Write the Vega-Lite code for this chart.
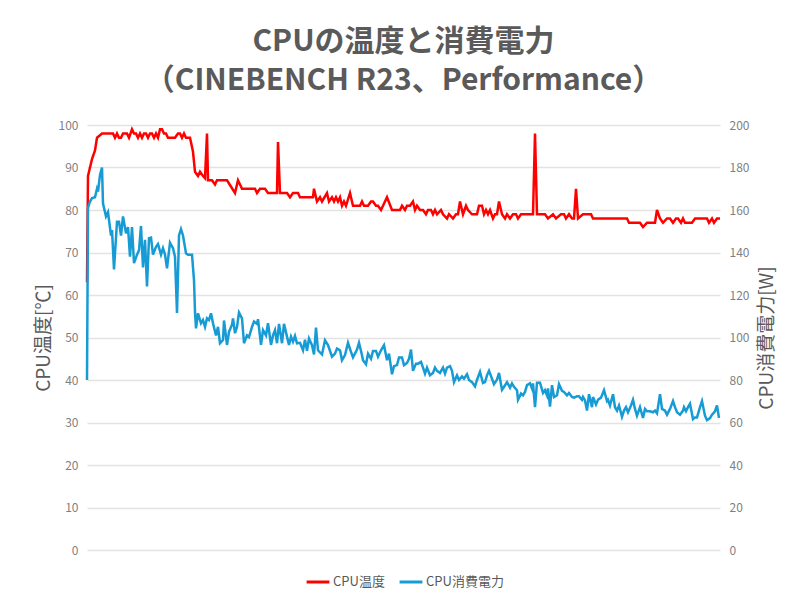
{
  "$schema": "https://vega.github.io/schema/vega-lite/v6.json",
  "autosize": "none",
  "width": 633,
  "height": 425,
  "padding": {"left": 87, "top": 125, "right": 80, "bottom": 50},
  "background": "white",
  "title": {
    "text": ["CPUの温度と消費電力", "（CINEBENCH R23、Performance）"],
    "fontSize": 30,
    "font": "Noto Sans CJK JP",
    "fontWeight": "bold",
    "color": "#5A5A5A",
    "lineHeight": 39,
    "anchor": "middle",
    "offset": 23
  },
  "datasets": {
    "temp": [
      {"t":0,"v":63},{"t":1,"v":88},{"t":5,"v":92},{"t":8,"v":94},{"t":10,"v":97},{"t":15,"v":98},{"t":26,"v":98},
      {"t":28,"v":97},{"t":30,"v":98},{"t":32,"v":97},{"t":34,"v":97},{"t":36,"v":98},{"t":40,"v":98},{"t":42,"v":97},
      {"t":45,"v":99},{"t":47,"v":98},{"t":49,"v":98},{"t":51,"v":97},{"t":53,"v":98},{"t":55,"v":97},{"t":57,"v":98},
      {"t":59,"v":98},{"t":61,"v":97},{"t":63,"v":98},{"t":65,"v":98},{"t":67,"v":97},{"t":69,"v":98},{"t":71,"v":97},
      {"t":73,"v":99},{"t":75,"v":99},{"t":77,"v":98},{"t":79,"v":98},{"t":81,"v":97},{"t":85,"v":97},{"t":88,"v":97},
      {"t":91,"v":98},{"t":93,"v":98},{"t":95,"v":97},{"t":97,"v":98},{"t":99,"v":97},{"t":103,"v":97},
      {"t":106,"v":93.7},{"t":108,"v":89},{"t":111,"v":88},{"t":113,"v":89},{"t":116,"v":88},{"t":118,"v":87.5},
      {"t":120,"v":98},{"t":121,"v":87},{"t":125,"v":87},{"t":128,"v":86},{"t":130,"v":87},{"t":140,"v":87},
      {"t":148,"v":84},{"t":151,"v":87},{"t":155,"v":85},{"t":168,"v":85},{"t":170,"v":84},{"t":173,"v":85},
      {"t":178,"v":85},{"t":181,"v":84},{"t":190,"v":84},{"t":191,"v":96},{"t":193,"v":84},{"t":200,"v":84},
      {"t":203,"v":83},{"t":206,"v":84},{"t":211,"v":84},{"t":213,"v":83},{"t":226,"v":83},{"t":227,"v":85},
      {"t":230,"v":82},{"t":233,"v":83},{"t":235,"v":82},{"t":240,"v":84},{"t":242,"v":82},{"t":245,"v":83},
      {"t":247,"v":82},{"t":249,"v":83},{"t":251,"v":82},{"t":253,"v":83},{"t":255,"v":81},{"t":257,"v":82},
      {"t":259,"v":81},{"t":263,"v":84},{"t":266,"v":81},{"t":273,"v":81},{"t":275,"v":82},{"t":277,"v":81},
      {"t":281,"v":81},{"t":284,"v":82},{"t":286,"v":82},{"t":289,"v":81},{"t":291,"v":81},{"t":294,"v":80},
      {"t":300,"v":83},{"t":305,"v":80},{"t":313,"v":80},{"t":315,"v":81},{"t":318,"v":80},{"t":320,"v":81},
      {"t":323,"v":81},{"t":326,"v":82},{"t":328,"v":80},{"t":330,"v":81},{"t":333,"v":80},{"t":336,"v":80},
      {"t":339,"v":79},{"t":341,"v":80},{"t":344,"v":80},{"t":346,"v":79},{"t":348,"v":80},{"t":350,"v":79},
      {"t":354,"v":80},{"t":356,"v":79},{"t":360,"v":78},{"t":362,"v":79},{"t":366,"v":78},{"t":369,"v":79},
      {"t":371,"v":79},{"t":373,"v":82},{"t":376,"v":79},{"t":379,"v":81},{"t":381,"v":80},{"t":385,"v":79},
      {"t":390,"v":79},{"t":392,"v":81},{"t":395,"v":81},{"t":397,"v":79},{"t":399,"v":80},{"t":401,"v":79},
      {"t":403,"v":80},{"t":406,"v":78},{"t":408,"v":79},{"t":410,"v":79},{"t":412,"v":82},{"t":415,"v":79},
      {"t":418,"v":78},{"t":420,"v":79},{"t":423,"v":78},{"t":426,"v":79},{"t":429,"v":79},{"t":431,"v":78},
      {"t":434,"v":79},{"t":446,"v":79},{"t":448,"v":98},{"t":450,"v":79},{"t":458,"v":79},{"t":461,"v":78},
      {"t":466,"v":79},{"t":469,"v":78},{"t":474,"v":79},{"t":477,"v":79},{"t":479,"v":78},{"t":482,"v":79},
      {"t":485,"v":78},{"t":487,"v":78},{"t":489,"v":85},{"t":491,"v":78},{"t":496,"v":79},{"t":504,"v":79},
      {"t":506,"v":78},{"t":540,"v":78},{"t":542,"v":77},{"t":553,"v":77},{"t":556,"v":76},{"t":560,"v":77},
      {"t":568,"v":77},{"t":570,"v":80},{"t":573,"v":78},{"t":576,"v":77},{"t":580,"v":78},{"t":583,"v":78},
      {"t":586,"v":77},{"t":589,"v":78},{"t":591,"v":78},{"t":594,"v":77},{"t":596,"v":78},{"t":598,"v":77},
      {"t":600,"v":77},{"t":605,"v":77},{"t":608,"v":78},{"t":620,"v":78},{"t":622,"v":77},{"t":625,"v":78},
      {"t":627,"v":77},{"t":630,"v":78},{"t":633,"v":78}
    ],
    "power": [
      {"t":0,"v":80},{"t":1,"v":161},{"t":3,"v":164},{"t":5,"v":165.6},{"t":8,"v":166},{"t":10,"v":170},{"t":11,"v":168.6},
      {"t":13,"v":176.5},{"t":15,"v":180},{"t":16,"v":163},{"t":19,"v":157},{"t":21,"v":159},{"t":24,"v":148},
      {"t":25,"v":150.6},{"t":27,"v":132},{"t":30,"v":154.5},{"t":32,"v":154.5},{"t":34,"v":148},{"t":36,"v":157},
      {"t":39,"v":149},{"t":41,"v":152},{"t":43,"v":138},{"t":45,"v":152},{"t":47,"v":135},{"t":50,"v":139},
      {"t":52,"v":141},{"t":54,"v":152.5},{"t":56,"v":133},{"t":58,"v":146},{"t":60,"v":124},{"t":62,"v":146.7},
      {"t":64,"v":147},{"t":66,"v":139},{"t":69,"v":142.7},{"t":71,"v":144},{"t":74,"v":139},{"t":76,"v":142},
      {"t":78,"v":139},{"t":80,"v":132.5},{"t":83,"v":144.6},{"t":86,"v":142},{"t":88,"v":138},{"t":90,"v":111.5},
      {"t":92,"v":148},{"t":94,"v":151},{"t":96,"v":148},{"t":99,"v":139.6},{"t":101,"v":139},{"t":105,"v":139},
      {"t":107,"v":127},{"t":108,"v":112},{"t":109,"v":104.3},{"t":111,"v":111.4},{"t":114,"v":106.7},{"t":116,"v":108.2},
      {"t":118,"v":105},{"t":120,"v":109},{"t":122,"v":108.2},{"t":124,"v":111.4},{"t":126,"v":106.7},{"t":129,"v":101},
      {"t":131,"v":105},{"t":133,"v":97.3},{"t":136,"v":98.8},{"t":137,"v":108},{"t":140,"v":96.5},{"t":142,"v":102.7},
      {"t":145,"v":106},{"t":146,"v":109},{"t":148,"v":102},{"t":150,"v":105},{"t":152,"v":111.7},{"t":155,"v":109},
      {"t":157,"v":97.3},{"t":160,"v":101},{"t":162,"v":100.2},{"t":165,"v":105},{"t":167,"v":107.5},{"t":170,"v":106.4},
      {"t":171,"v":108.6},{"t":174,"v":96.5},{"t":176,"v":103.5},{"t":179,"v":101},{"t":181,"v":106.7},{"t":184,"v":96.5},
      {"t":186,"v":101},{"t":188,"v":103.5},{"t":190,"v":97.3},{"t":192,"v":106.4},{"t":195,"v":97.3},{"t":197,"v":106.4},
      {"t":200,"v":100.4},{"t":202,"v":96.5},{"t":204,"v":100.4},{"t":206,"v":98},{"t":208,"v":100.7},{"t":210,"v":97.3},
      {"t":213,"v":97.5},{"t":216,"v":94},{"t":218,"v":99},{"t":220,"v":93.7},{"t":222,"v":99.5},{"t":225,"v":96.4},
      {"t":227,"v":92},{"t":229,"v":104.7},{"t":231,"v":94},{"t":235,"v":92},{"t":238,"v":98.7},{"t":241,"v":96.4},
      {"t":245,"v":91},{"t":248,"v":92.4},{"t":250,"v":94.8},{"t":253,"v":94},{"t":255,"v":89.3},{"t":258,"v":91.7},
      {"t":261,"v":97.5},{"t":264,"v":93.2},{"t":266,"v":90.6},{"t":270,"v":94.3},{"t":272,"v":97.5},{"t":275,"v":91.7},
      {"t":276,"v":89.3},{"t":279,"v":87.4},{"t":281,"v":92.4},{"t":284,"v":90},{"t":286,"v":93.7},{"t":289,"v":93.7},
      {"t":291,"v":91},{"t":294,"v":94},{"t":297,"v":96.4},{"t":300,"v":89.3},{"t":302,"v":92.4},{"t":305,"v":82.7},
      {"t":307,"v":86.5},{"t":310,"v":87},{"t":312,"v":90.6},{"t":315,"v":90.6},{"t":317,"v":87},{"t":320,"v":88},
      {"t":322,"v":90},{"t":324,"v":94.3},{"t":326,"v":84.3},{"t":329,"v":87.7},{"t":331,"v":87.7},{"t":334,"v":88.5},
      {"t":336,"v":85.8},{"t":338,"v":83},{"t":340,"v":85.8},{"t":343,"v":82.2},{"t":346,"v":83.3},{"t":348,"v":85.8},
      {"t":350,"v":84.3},{"t":353,"v":83.3},{"t":356,"v":85.8},{"t":358,"v":83},{"t":360,"v":85.8},{"t":363,"v":86.5},
      {"t":365,"v":84.3},{"t":367,"v":79},{"t":370,"v":82.2},{"t":372,"v":80},{"t":375,"v":81.7},{"t":377,"v":80.6},
      {"t":380,"v":82.7},{"t":382,"v":80},{"t":385,"v":79},{"t":388,"v":77},{"t":390,"v":80},{"t":393,"v":83.8},
      {"t":396,"v":78.6},{"t":398,"v":79},{"t":400,"v":82.2},{"t":402,"v":84.3},{"t":405,"v":80.6},{"t":407,"v":78},
      {"t":410,"v":80.2},{"t":412,"v":83.3},{"t":415,"v":75.4},{"t":417,"v":76.7},{"t":420,"v":79},{"t":423,"v":76.4},
      {"t":425,"v":78.4},{"t":427,"v":76.8},{"t":430,"v":75.2},{"t":431,"v":70.7},{"t":434,"v":73.6},{"t":436,"v":72.8},
      {"t":438,"v":74.4},{"t":440,"v":77.6},{"t":443,"v":78.4},{"t":445,"v":76},{"t":446,"v":78.4},{"t":448,"v":67.2},
      {"t":450,"v":78.7},{"t":453,"v":78.7},{"t":456,"v":73.9},{"t":458,"v":75.2},{"t":460,"v":72.8},{"t":461,"v":76},
      {"t":463,"v":67.5},{"t":465,"v":77.6},{"t":467,"v":72},{"t":470,"v":72.8},{"t":472,"v":78},{"t":475,"v":74.9},
      {"t":477,"v":74.4},{"t":480,"v":72.8},{"t":482,"v":73.9},{"t":485,"v":72},{"t":487,"v":71.7},{"t":490,"v":72.3},
      {"t":492,"v":72.3},{"t":495,"v":70.7},{"t":496,"v":72},{"t":498,"v":70.4},{"t":500,"v":65.6},{"t":502,"v":73.3},
      {"t":505,"v":67.2},{"t":506,"v":72},{"t":509,"v":68.5},{"t":511,"v":70.7},{"t":514,"v":71.7},{"t":517,"v":75.2},
      {"t":520,"v":70.1},{"t":521,"v":70.7},{"t":523,"v":68},{"t":526,"v":73.3},{"t":528,"v":67.2},{"t":530,"v":65.6},
      {"t":532,"v":68},{"t":535,"v":62.7},{"t":537,"v":65.6},{"t":539,"v":67.2},{"t":541,"v":64.8},{"t":544,"v":68},
      {"t":546,"v":70.7},{"t":548,"v":66.4},{"t":550,"v":63.2},{"t":553,"v":67.2},{"t":556,"v":62.1},{"t":558,"v":66.4},
      {"t":560,"v":65.3},{"t":563,"v":65.3},{"t":566,"v":64.8},{"t":568,"v":65.6},{"t":570,"v":64.3},{"t":573,"v":73.3},
      {"t":575,"v":66.4},{"t":578,"v":65.6},{"t":580,"v":63.7},{"t":583,"v":66.4},{"t":586,"v":70.1},{"t":588,"v":67.2},
      {"t":590,"v":64.8},{"t":593,"v":63.7},{"t":596,"v":65.6},{"t":597,"v":67.2},{"t":599,"v":65.3},{"t":601,"v":67.2},
      {"t":603,"v":68.8},{"t":606,"v":61.6},{"t":608,"v":62.4},{"t":610,"v":62.4},{"t":613,"v":67.2},{"t":615,"v":70.1},
      {"t":618,"v":63.2},{"t":620,"v":61.1},{"t":623,"v":62.1},{"t":625,"v":63.7},{"t":628,"v":65.3},{"t":630,"v":68},
      {"t":632,"v":62.1}
    ]
  },
  "layer": [
    {
      "data": {"name": "temp"},
      "mark": {"type": "line", "strokeWidth": 2.5, "interpolate": "linear"},
      "encoding": {
        "x": {"field": "t", "type": "quantitative", "scale": {"domain": [0, 633], "nice": false}, "axis": null},
        "y": {
          "field": "v", "type": "quantitative",
          "scale": {"domain": [0, 100], "nice": false},
          "axis": {
            "orient": "left", "values": [0,10,20,30,40,50,60,70,80,90,100],
            "title": "CPU温度[℃]", "grid": true, "titlePadding": 5
          }
        },
        "color": {
          "datum": "CPU温度", "type": "nominal",
          "scale": {"domain": ["CPU温度", "CPU消費電力"], "range": ["#FF0000", "#169BD5"]},
          "legend": {"title": null, "orient": "none", "legendX": 218, "legendY": 444, "direction": "horizontal"}
        }
      }
    },
    {
      "data": {"name": "power"},
      "mark": {"type": "line", "strokeWidth": 2.5, "interpolate": "linear"},
      "encoding": {
        "x": {"field": "t", "type": "quantitative", "scale": {"domain": [0, 633], "nice": false}, "axis": null},
        "y": {
          "field": "v", "type": "quantitative",
          "scale": {"domain": [0, 200], "nice": false},
          "axis": {
            "orient": "right", "values": [0,20,40,60,80,100,120,140,160,180,200],
            "title": "CPU消費電力[W]", "grid": false, "titleAngle": 270, "titlePadding": 28
          }
        },
        "color": {"datum": "CPU消費電力", "type": "nominal"}
      }
    }
  ],
  "resolve": {"scale": {"y": "independent"}},
  "config": {
    "font": "Noto Sans CJK JP",
    "view": {"stroke": null},
    "axis": {
      "domain": false,
      "ticks": false,
      "labelPadding": 9,
      "labelFontSize": 12,
      "labelColor": "#7F7F7F",
      "labelFont": "Noto Sans CJK JP",
      "titleFont": "Noto Sans CJK JP",
      "titleFontSize": 19,
      "titleFontWeight": "normal",
      "titleColor": "#595959",
      "gridColor": "#E3E3E3",
      "gridWidth": 1.5
    },
    "legend": {
      "symbolType": "stroke",
      "symbolStrokeWidth": 3,
      "symbolSize": 520,
      "labelFontSize": 13,
      "labelColor": "#595959",
      "labelFont": "Noto Sans CJK JP",
      "columnPadding": 8,
      "labelOffset": 2
    }
  }
}
